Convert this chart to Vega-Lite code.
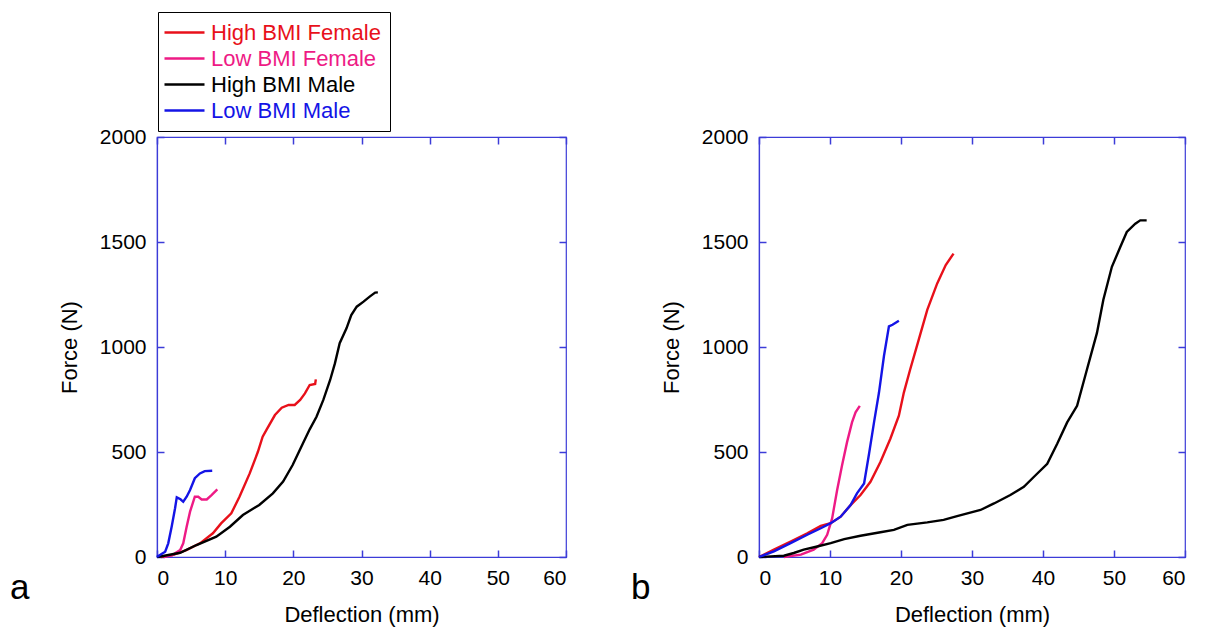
{
  "$schema": "https://vega.github.io/schema/vega-lite/v6.json",
  "autosize": {"type": "none"},
  "padding": {"left": 157, "top": 137, "right": 1048, "bottom": 495},
  "background": "white",
  "config": {
    "font": "Liberation Sans",
    "view": {"stroke": "#3c3cd8", "strokeWidth": 1.2},
    "axis": {
      "grid": false,
      "domainColor": "#3c3cd8",
      "domainWidth": 1.2,
      "tickColor": "#3c3cd8",
      "tickWidth": 1.5,
      "labelFontSize": 21,
      "labelColor": "#000000",
      "titleFontSize": 22,
      "titleFontWeight": "normal",
      "titleColor": "#000000",
      "labelFont": "Liberation Sans",
      "titleFont": "Liberation Sans",
      "format": "d"
    },
    "axisX": {"titlePadding": 16},
    "axisY": {"titlePadding": 18}
  },
  "datasets": {
    "curves": [
      {"panel": "a", "group": "High BMI Female", "x": 0.6, "y": 0},
      {"panel": "a", "group": "High BMI Female", "x": 1.0, "y": 3},
      {"panel": "a", "group": "High BMI Female", "x": 2.4, "y": 10},
      {"panel": "a", "group": "High BMI Female", "x": 4.3, "y": 33},
      {"panel": "a", "group": "High BMI Female", "x": 6.3, "y": 65},
      {"panel": "a", "group": "High BMI Female", "x": 8.2, "y": 113},
      {"panel": "a", "group": "High BMI Female", "x": 9.4, "y": 160},
      {"panel": "a", "group": "High BMI Female", "x": 10.9, "y": 208},
      {"panel": "a", "group": "High BMI Female", "x": 12.1, "y": 287},
      {"panel": "a", "group": "High BMI Female", "x": 13.6, "y": 398},
      {"panel": "a", "group": "High BMI Female", "x": 14.8, "y": 501},
      {"panel": "a", "group": "High BMI Female", "x": 15.5, "y": 573},
      {"panel": "a", "group": "High BMI Female", "x": 16.1, "y": 608},
      {"panel": "a", "group": "High BMI Female", "x": 17.3, "y": 676},
      {"panel": "a", "group": "High BMI Female", "x": 18.3, "y": 711},
      {"panel": "a", "group": "High BMI Female", "x": 19.3, "y": 724},
      {"panel": "a", "group": "High BMI Female", "x": 20.2, "y": 724},
      {"panel": "a", "group": "High BMI Female", "x": 21.0, "y": 748},
      {"panel": "a", "group": "High BMI Female", "x": 21.7, "y": 779},
      {"panel": "a", "group": "High BMI Female", "x": 22.4, "y": 819},
      {"panel": "a", "group": "High BMI Female", "x": 23.2, "y": 824},
      {"panel": "a", "group": "High BMI Female", "x": 23.3, "y": 846},

      {"panel": "a", "group": "Low BMI Female", "x": 1.0, "y": 0},
      {"panel": "a", "group": "Low BMI Female", "x": 2.2, "y": 8},
      {"panel": "a", "group": "Low BMI Female", "x": 3.4, "y": 33},
      {"panel": "a", "group": "Low BMI Female", "x": 3.85, "y": 65},
      {"panel": "a", "group": "Low BMI Female", "x": 4.35, "y": 144},
      {"panel": "a", "group": "Low BMI Female", "x": 4.85, "y": 216},
      {"panel": "a", "group": "Low BMI Female", "x": 5.55, "y": 287},
      {"panel": "a", "group": "Low BMI Female", "x": 6.05, "y": 287},
      {"panel": "a", "group": "Low BMI Female", "x": 6.55, "y": 274},
      {"panel": "a", "group": "Low BMI Female", "x": 7.3, "y": 274},
      {"panel": "a", "group": "Low BMI Female", "x": 8.0, "y": 295},
      {"panel": "a", "group": "Low BMI Female", "x": 8.85, "y": 322},

      {"panel": "a", "group": "High BMI Male", "x": 0.0, "y": 0},
      {"panel": "a", "group": "High BMI Male", "x": 0.9, "y": 5},
      {"panel": "a", "group": "High BMI Male", "x": 3.4, "y": 20},
      {"panel": "a", "group": "High BMI Male", "x": 5.8, "y": 57},
      {"panel": "a", "group": "High BMI Male", "x": 8.7, "y": 97},
      {"panel": "a", "group": "High BMI Male", "x": 10.7, "y": 144},
      {"panel": "a", "group": "High BMI Male", "x": 12.6, "y": 200},
      {"panel": "a", "group": "High BMI Male", "x": 15.0, "y": 248},
      {"panel": "a", "group": "High BMI Male", "x": 17.0, "y": 303},
      {"panel": "a", "group": "High BMI Male", "x": 18.5, "y": 359},
      {"panel": "a", "group": "High BMI Male", "x": 19.9, "y": 438},
      {"panel": "a", "group": "High BMI Male", "x": 21.4, "y": 541},
      {"panel": "a", "group": "High BMI Male", "x": 22.4, "y": 608},
      {"panel": "a", "group": "High BMI Male", "x": 23.4, "y": 668},
      {"panel": "a", "group": "High BMI Male", "x": 24.4, "y": 748},
      {"panel": "a", "group": "High BMI Male", "x": 25.4, "y": 843},
      {"panel": "a", "group": "High BMI Male", "x": 26.1, "y": 922},
      {"panel": "a", "group": "High BMI Male", "x": 26.8, "y": 1018},
      {"panel": "a", "group": "High BMI Male", "x": 27.8, "y": 1089},
      {"panel": "a", "group": "High BMI Male", "x": 28.5, "y": 1152},
      {"panel": "a", "group": "High BMI Male", "x": 29.3, "y": 1192},
      {"panel": "a", "group": "High BMI Male", "x": 30.3, "y": 1216},
      {"panel": "a", "group": "High BMI Male", "x": 31.2, "y": 1240},
      {"panel": "a", "group": "High BMI Male", "x": 32.0, "y": 1259},
      {"panel": "a", "group": "High BMI Male", "x": 32.4, "y": 1260},

      {"panel": "a", "group": "Low BMI Male", "x": 0.0, "y": 0},
      {"panel": "a", "group": "Low BMI Male", "x": 0.2, "y": 5},
      {"panel": "a", "group": "Low BMI Male", "x": 1.2, "y": 25},
      {"panel": "a", "group": "Low BMI Male", "x": 1.65, "y": 65},
      {"panel": "a", "group": "Low BMI Male", "x": 2.15, "y": 144},
      {"panel": "a", "group": "Low BMI Male", "x": 2.65, "y": 232},
      {"panel": "a", "group": "Low BMI Male", "x": 2.9, "y": 284},
      {"panel": "a", "group": "Low BMI Male", "x": 3.45, "y": 275},
      {"panel": "a", "group": "Low BMI Male", "x": 3.85, "y": 263},
      {"panel": "a", "group": "Low BMI Male", "x": 4.35, "y": 287},
      {"panel": "a", "group": "Low BMI Male", "x": 4.85, "y": 319},
      {"panel": "a", "group": "Low BMI Male", "x": 5.55, "y": 375},
      {"panel": "a", "group": "Low BMI Male", "x": 6.3, "y": 398},
      {"panel": "a", "group": "Low BMI Male", "x": 7.0, "y": 409},
      {"panel": "a", "group": "Low BMI Male", "x": 8.1, "y": 411},

      {"panel": "b", "group": "High BMI Female", "x": 0.0, "y": 0},
      {"panel": "b", "group": "High BMI Female", "x": 2.1, "y": 35},
      {"panel": "b", "group": "High BMI Female", "x": 4.45, "y": 74},
      {"panel": "b", "group": "High BMI Female", "x": 6.8, "y": 113},
      {"panel": "b", "group": "High BMI Female", "x": 8.7, "y": 148},
      {"panel": "b", "group": "High BMI Female", "x": 10.1, "y": 161},
      {"panel": "b", "group": "High BMI Female", "x": 11.5, "y": 192},
      {"panel": "b", "group": "High BMI Female", "x": 12.9, "y": 247},
      {"panel": "b", "group": "High BMI Female", "x": 14.3, "y": 295},
      {"panel": "b", "group": "High BMI Female", "x": 15.7, "y": 358},
      {"panel": "b", "group": "High BMI Female", "x": 17.1, "y": 452},
      {"panel": "b", "group": "High BMI Female", "x": 18.5, "y": 563},
      {"panel": "b", "group": "High BMI Female", "x": 19.7, "y": 673},
      {"panel": "b", "group": "High BMI Female", "x": 20.4, "y": 783},
      {"panel": "b", "group": "High BMI Female", "x": 21.3, "y": 894},
      {"panel": "b", "group": "High BMI Female", "x": 22.5, "y": 1035},
      {"panel": "b", "group": "High BMI Female", "x": 23.7, "y": 1177},
      {"panel": "b", "group": "High BMI Female", "x": 25.1, "y": 1303},
      {"panel": "b", "group": "High BMI Female", "x": 26.3, "y": 1390},
      {"panel": "b", "group": "High BMI Female", "x": 27.4, "y": 1445},

      {"panel": "b", "group": "Low BMI Female", "x": 3.5, "y": 0},
      {"panel": "b", "group": "Low BMI Female", "x": 5.9, "y": 11},
      {"panel": "b", "group": "Low BMI Female", "x": 7.7, "y": 35},
      {"panel": "b", "group": "Low BMI Female", "x": 8.9, "y": 66},
      {"panel": "b", "group": "Low BMI Female", "x": 9.6, "y": 106},
      {"panel": "b", "group": "Low BMI Female", "x": 10.3, "y": 184},
      {"panel": "b", "group": "Low BMI Female", "x": 11.0, "y": 318},
      {"panel": "b", "group": "Low BMI Female", "x": 11.7, "y": 437},
      {"panel": "b", "group": "Low BMI Female", "x": 12.4, "y": 547},
      {"panel": "b", "group": "Low BMI Female", "x": 13.1, "y": 641},
      {"panel": "b", "group": "Low BMI Female", "x": 13.6, "y": 689},
      {"panel": "b", "group": "Low BMI Female", "x": 14.2, "y": 720},

      {"panel": "b", "group": "High BMI Male", "x": 0.0, "y": 0},
      {"panel": "b", "group": "High BMI Male", "x": 3.5, "y": 6},
      {"panel": "b", "group": "High BMI Male", "x": 4.9, "y": 19},
      {"panel": "b", "group": "High BMI Male", "x": 6.3, "y": 35},
      {"panel": "b", "group": "High BMI Male", "x": 8.2, "y": 50},
      {"panel": "b", "group": "High BMI Male", "x": 10.1, "y": 66},
      {"panel": "b", "group": "High BMI Male", "x": 12.0, "y": 85},
      {"panel": "b", "group": "High BMI Male", "x": 14.3, "y": 101},
      {"panel": "b", "group": "High BMI Male", "x": 17.1, "y": 118},
      {"panel": "b", "group": "High BMI Male", "x": 19.0, "y": 129},
      {"panel": "b", "group": "High BMI Male", "x": 20.9, "y": 153},
      {"panel": "b", "group": "High BMI Male", "x": 23.7, "y": 165},
      {"panel": "b", "group": "High BMI Male", "x": 26.0, "y": 177},
      {"panel": "b", "group": "High BMI Male", "x": 27.9, "y": 195},
      {"panel": "b", "group": "High BMI Male", "x": 31.2, "y": 224},
      {"panel": "b", "group": "High BMI Male", "x": 33.1, "y": 255},
      {"panel": "b", "group": "High BMI Male", "x": 35.4, "y": 295},
      {"panel": "b", "group": "High BMI Male", "x": 37.3, "y": 334},
      {"panel": "b", "group": "High BMI Male", "x": 38.7, "y": 381},
      {"panel": "b", "group": "High BMI Male", "x": 40.6, "y": 444},
      {"panel": "b", "group": "High BMI Male", "x": 42.0, "y": 539},
      {"panel": "b", "group": "High BMI Male", "x": 43.4, "y": 641},
      {"panel": "b", "group": "High BMI Male", "x": 44.8, "y": 720},
      {"panel": "b", "group": "High BMI Male", "x": 46.2, "y": 894},
      {"panel": "b", "group": "High BMI Male", "x": 47.6, "y": 1067},
      {"panel": "b", "group": "High BMI Male", "x": 48.5, "y": 1225},
      {"panel": "b", "group": "High BMI Male", "x": 49.7, "y": 1382},
      {"panel": "b", "group": "High BMI Male", "x": 50.9, "y": 1477},
      {"panel": "b", "group": "High BMI Male", "x": 51.8, "y": 1548},
      {"panel": "b", "group": "High BMI Male", "x": 53.0, "y": 1587},
      {"panel": "b", "group": "High BMI Male", "x": 53.7, "y": 1603},
      {"panel": "b", "group": "High BMI Male", "x": 54.6, "y": 1603},

      {"panel": "b", "group": "Low BMI Male", "x": 0.0, "y": 0},
      {"panel": "b", "group": "Low BMI Male", "x": 2.1, "y": 27},
      {"panel": "b", "group": "Low BMI Male", "x": 4.45, "y": 66},
      {"panel": "b", "group": "Low BMI Male", "x": 6.8, "y": 106},
      {"panel": "b", "group": "Low BMI Male", "x": 8.7, "y": 137},
      {"panel": "b", "group": "Low BMI Male", "x": 10.1, "y": 161},
      {"panel": "b", "group": "Low BMI Male", "x": 11.5, "y": 192},
      {"panel": "b", "group": "Low BMI Male", "x": 12.9, "y": 247},
      {"panel": "b", "group": "Low BMI Male", "x": 13.8, "y": 303},
      {"panel": "b", "group": "Low BMI Male", "x": 14.8, "y": 350},
      {"panel": "b", "group": "Low BMI Male", "x": 15.5, "y": 492},
      {"panel": "b", "group": "Low BMI Male", "x": 16.2, "y": 641},
      {"panel": "b", "group": "Low BMI Male", "x": 16.9, "y": 783},
      {"panel": "b", "group": "Low BMI Male", "x": 17.6, "y": 957},
      {"panel": "b", "group": "Low BMI Male", "x": 18.3, "y": 1098},
      {"panel": "b", "group": "Low BMI Male", "x": 18.8, "y": 1106},
      {"panel": "b", "group": "Low BMI Male", "x": 19.7, "y": 1125}
    ]
  },
  "spacing": 193,
  "bounds": "flush",
  "resolve": {"scale": {"color": "shared"}},
  "hconcat": [
    {
      "width": 409,
      "height": 420,
      "title": {"text": "a", "orient": "bottom", "anchor": "start", "frame": "group", "dx": -147, "dy": -58, "fontSize": 35, "fontWeight": "normal", "font": "Liberation Sans", "color": "#000000"},
      "data": {"name": "curves"},
      "transform": [{"filter": "datum.panel === 'a'"}],
      "layer": [
        {
          "mark": {"type": "line", "strokeWidth": 2.4},
          "encoding": {
            "x": {"field": "x", "type": "quantitative", "scale": {"domain": [0, 60], "nice": false}, "axis": {"values": [0, 10, 20, 30, 40, 50, 60], "title": "Deflection (mm)", "tickSize": -7, "labelPadding": 17}},
            "y": {"field": "y", "type": "quantitative", "scale": {"domain": [0, 2000], "nice": false}, "axis": {"values": [0, 500, 1000, 1500, 2000], "title": "Force (N)", "tickSize": -7, "labelPadding": 18}},
            "color": {
              "field": "group", "type": "nominal",
              "scale": {"domain": ["High BMI Female", "Low BMI Female", "High BMI Male", "Low BMI Male"], "range": ["#e8101a", "#ee1a85", "#000000", "#1414e6"]},
              "legend": {
                "orient": "none", "legendX": 1, "legendY": -125, "title": null,
                "strokeColor": "#000000", "fillColor": "#ffffff", "padding": 9,
                "symbolType": "M-2,0H2", "symbolSize": 400, "symbolStrokeWidth": 2.4, "symbolOffset": 6,
                "labelFontSize": 22, "labelFont": "Liberation Sans", "labelOffset": 15, "labelLimit": 400,
                "rowPadding": 3,
                "encode": {"labels": {"update": {"fill": {"signal": "datum.value === 'High BMI Female' ? '#e8101a' : datum.value === 'Low BMI Female' ? '#ee1a85' : datum.value === 'Low BMI Male' ? '#1414e6' : '#000000'"}}}}
              }
            }
          }
        },
        {
          "mark": {"type": "point", "opacity": 0},
          "encoding": {
            "x": {"field": "x", "type": "quantitative", "axis": {"orient": "top", "tickSize": -7, "ticks": true, "labels": false, "title": null, "domain": false, "values": [0, 10, 20, 30, 40, 50, 60]}},
            "y": {"field": "y", "type": "quantitative", "axis": {"orient": "right", "tickSize": -7, "ticks": true, "labels": false, "title": null, "domain": false, "values": [0, 500, 1000, 1500, 2000]}}
          }
        }
      ],
      "resolve": {"axis": {"x": "independent", "y": "independent"}}
    },
    {
      "width": 426,
      "height": 420,
      "title": {"text": "b", "orient": "bottom", "anchor": "start", "frame": "group", "dx": -128, "dy": -58, "fontSize": 35, "fontWeight": "normal", "font": "Liberation Sans", "color": "#000000"},
      "data": {"name": "curves"},
      "transform": [{"filter": "datum.panel === 'b'"}],
      "layer": [
        {
          "mark": {"type": "line", "strokeWidth": 2.4},
          "encoding": {
            "x": {"field": "x", "type": "quantitative", "scale": {"domain": [0, 60], "nice": false}, "axis": {"values": [0, 10, 20, 30, 40, 50, 60], "title": "Deflection (mm)", "tickSize": -7, "labelPadding": 17}},
            "y": {"field": "y", "type": "quantitative", "scale": {"domain": [0, 2000], "nice": false}, "axis": {"values": [0, 500, 1000, 1500, 2000], "title": "Force (N)", "tickSize": -7, "labelPadding": 18}},
            "color": {
              "field": "group", "type": "nominal",
              "scale": {"domain": ["High BMI Female", "Low BMI Female", "High BMI Male", "Low BMI Male"], "range": ["#e8101a", "#ee1a85", "#000000", "#1414e6"]},
              "legend": {
                "orient": "none", "legendX": 1, "legendY": -125, "title": null,
                "strokeColor": "#000000", "fillColor": "#ffffff", "padding": 9,
                "symbolType": "M-2,0H2", "symbolSize": 400, "symbolStrokeWidth": 2.4, "symbolOffset": 6,
                "labelFontSize": 22, "labelFont": "Liberation Sans", "labelOffset": 15, "labelLimit": 400,
                "rowPadding": 3,
                "encode": {"labels": {"update": {"fill": {"signal": "datum.value === 'High BMI Female' ? '#e8101a' : datum.value === 'Low BMI Female' ? '#ee1a85' : datum.value === 'Low BMI Male' ? '#1414e6' : '#000000'"}}}}
              }
            }
          }
        },
        {
          "mark": {"type": "point", "opacity": 0},
          "encoding": {
            "x": {"field": "x", "type": "quantitative", "axis": {"orient": "top", "tickSize": -7, "ticks": true, "labels": false, "title": null, "domain": false, "values": [0, 10, 20, 30, 40, 50, 60]}},
            "y": {"field": "y", "type": "quantitative", "axis": {"orient": "right", "tickSize": -7, "ticks": true, "labels": false, "title": null, "domain": false, "values": [0, 500, 1000, 1500, 2000]}}
          }
        }
      ],
      "resolve": {"axis": {"x": "independent", "y": "independent"}}
    }
  ]
}
